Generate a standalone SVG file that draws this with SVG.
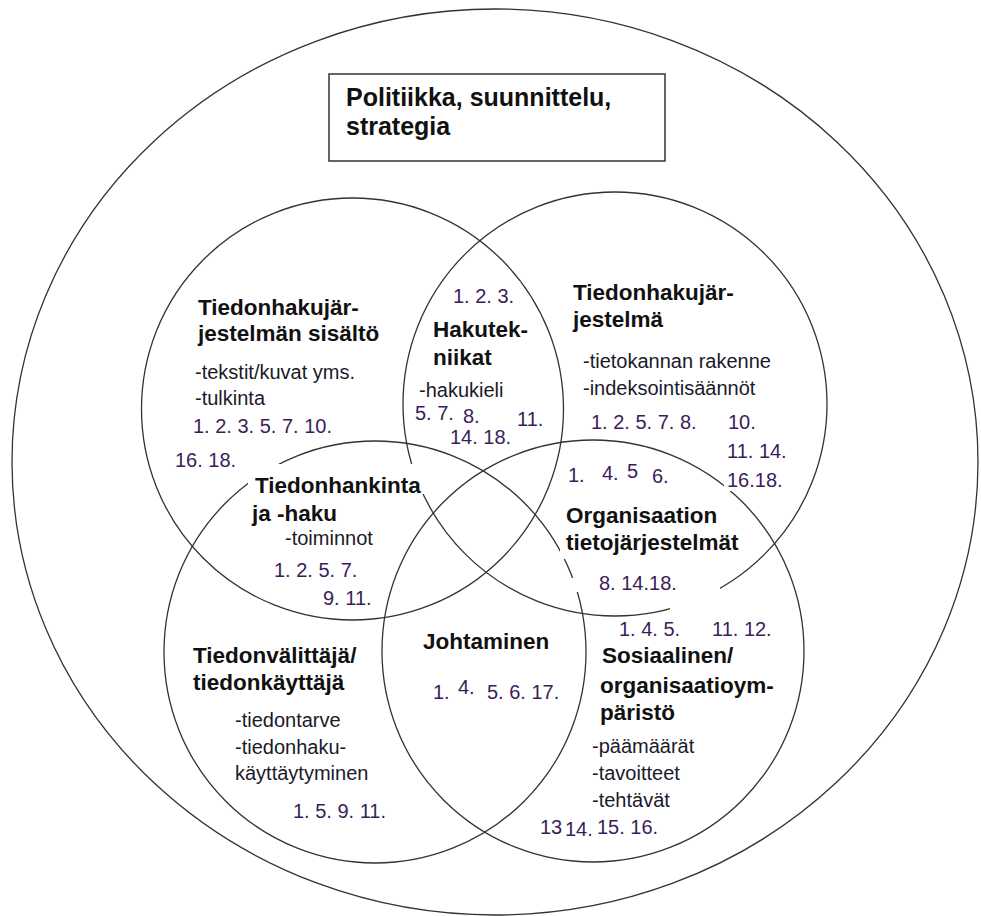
<svg xmlns="http://www.w3.org/2000/svg" width="981" height="916" viewBox="0 0 981 916">
<style>
.c{fill:none;stroke:#333;stroke-width:1.3}
.gap{fill:#fff;stroke:none}
text{font-family:"Liberation Sans",Arial,sans-serif}
.h{font-size:22.5px;font-weight:bold;fill:#111}
.t{font-size:20px;fill:#1a1a2a}
.n{font-size:20px;fill:#3a1d5a}
.ti{font-size:25px;font-weight:bold;fill:#111}
</style>
<rect width="981" height="916" fill="#fff"/>
<g id="circles">
<ellipse id="outer" class="c" cx="495" cy="462" rx="483" ry="453"/>
<circle id="c-tl" class="c" cx="352.5" cy="409" r="211"/>
<circle id="c-tr" class="c" cx="615" cy="404" r="212"/>
<circle id="c-bl" class="c" cx="375" cy="652" r="211"/>
<circle id="c-br" class="c" cx="593" cy="651" r="211"/>
</g>
<g id="gaps">
<rect class="gap" x="248" y="464" width="178" height="30"/>
<rect class="gap" x="560" y="542" width="178" height="17"/>
<rect class="gap" x="571" y="578" width="110" height="14"/>
<rect class="gap" x="670" y="582" width="50" height="28"/>
<rect class="gap" x="724" y="470" width="58" height="21"/>
</g>
<g id="politiikka">
<rect x="329" y="74" width="336" height="87" fill="#fff" stroke="#333" stroke-width="1.5"/>
<text class="ti" x="346" y="106">Politiikka, suunnittelu,</text>
<text class="ti" x="346" y="135">strategia</text>
</g>
<g id="sisalto">
<text class="h" x="198" y="315">Tiedonhakujär-</text>
<text class="h" x="198" y="341">jestelmän sisältö</text>
<text class="t" x="195" y="379">-tekstit/kuvat yms.</text>
<text class="t" x="195" y="405">-tulkinta</text>
<text class="n" x="193" y="433">1. 2. 3. 5. 7. 10.</text>
<text class="n" x="175" y="467">16. 18.</text>
</g>
<g id="hakutekniikat">
<text class="n" x="453" y="303">1. 2. 3.</text>
<text class="h" x="433" y="337">Hakutek-</text>
<text class="h" x="433" y="365">niikat</text>
<text class="t" x="419" y="397">-hakukieli</text>
<text class="n" x="415" y="420">5. 7.</text>
<text class="n" x="463" y="423">8.</text>
<text class="n" x="517" y="426">11.</text>
<text class="n" x="450" y="444">14. 18.</text>
</g>
<g id="jarjestelma">
<text class="h" x="573" y="300">Tiedonhakujär-</text>
<text class="h" x="573" y="327">jestelmä</text>
<text class="t" x="583" y="368">-tietokannan rakenne</text>
<text class="t" x="583" y="395">-indeksointisäännöt</text>
<text class="n" x="591" y="429">1. 2. 5. 7. 8.</text>
<text class="n" x="728" y="429">10.</text>
<text class="n" x="727" y="458">11. 14.</text>
<text class="n" x="727" y="487">16.18.</text>
</g>
<g id="organisaation">
<text class="n" x="568" y="482">1.</text>
<text class="n" x="602" y="480">4.</text>
<text class="n" x="627" y="478">5</text>
<text class="n" x="652" y="483">6.</text>
<text class="h" x="566" y="523">Organisaation</text>
<text class="h" x="566" y="550">tietojärjestelmät</text>
<text class="n" x="599" y="590">8. 14.18.</text>
</g>
<g id="tiedonhankinta">
<text class="h" x="255" y="493">Tiedonhankinta</text>
<text class="h" x="252" y="521">ja -haku</text>
<text class="t" x="285" y="545">-toiminnot</text>
<text class="n" x="274" y="577">1. 2. 5. 7.</text>
<text class="n" x="323" y="605">9. 11.</text>
</g>
<g id="johtaminen">
<text class="h" x="423" y="649">Johtaminen</text>
<text class="n" x="433" y="699">1.</text>
<text class="n" x="458" y="694">4.</text>
<text class="n" x="487" y="699">5. 6. 17.</text>
</g>
<g id="kayttaja">
<text class="h" x="193" y="663">Tiedonvälittäjä/</text>
<text class="h" x="193" y="690">tiedonkäyttäjä</text>
<text class="t" x="235" y="727">-tiedontarve</text>
<text class="t" x="235" y="754">-tiedonhaku-</text>
<text class="t" x="235" y="780">käyttäytyminen</text>
<text class="n" x="293" y="818">1. 5. 9. 11.</text>
</g>
<g id="sosiaalinen">
<text class="n" x="619" y="636">1. 4. 5.</text>
<text class="n" x="712" y="636">11. 12.</text>
<text class="h" x="602" y="663">Sosiaalinen/</text>
<text class="h" x="600" y="693">organisaatioym-</text>
<text class="h" x="600" y="720">päristö</text>
<text class="t" x="592" y="753">-päämäärät</text>
<text class="t" x="592" y="780">-tavoitteet</text>
<text class="t" x="592" y="807">-tehtävät</text>
<text class="n" x="540" y="834">13</text>
<text class="n" x="565" y="836">14.</text>
<text class="n" x="597" y="834">15. 16.</text>
</g>
<g id="connectors"/>
</svg>
